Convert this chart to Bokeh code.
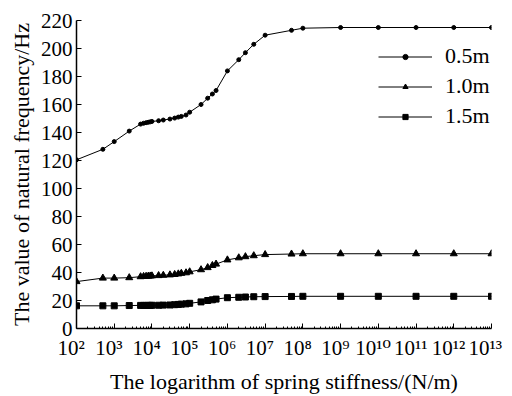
from bokeh.plotting import figure
from bokeh.models import Range1d, FixedTicker, CustomJSTickFormatter, Legend, LegendItem
from bokeh.embed import file_html
from bokeh.resources import INLINE

# Spring stiffness (N/m)
stiffness = [1e2, 5e2, 1e3, 2.5e3, 5e3, 6e3, 7e3, 8e3, 9e3, 1e4, 1.5e4, 2e4, 3e4, 4e4,
             5e4, 6e4, 8e4, 1e5, 2e5, 3e5, 4e5, 5e5, 1e6, 2e6, 3e6, 5e6, 1e7, 5e7, 1e8,
             1e9, 1e10, 1e11, 1e12, 1e13]

freq_05 = [120.5, 128, 133.5, 141, 146, 146.6, 147, 147.3, 147.6, 147.9, 148.4, 148.9,
           149.6, 150.3, 151, 151.5, 152.5, 154.5, 160, 164.5, 167.5, 170, 184, 192,
           197, 203, 209.5, 213, 214.5, 215, 215, 215, 215, 215]
freq_10 = [33.5, 36, 36, 36.3, 37, 37.2, 37.3, 37.4, 37.5, 37.6, 37.8, 38, 38.3, 38.6,
           39, 39.4, 39.8, 40.5, 42, 43.5, 45, 46, 49, 50.5, 51.3, 52, 52.8, 53.2, 53.4,
           53.4, 53.4, 53.4, 53.4, 53.4]
freq_15 = [16.2, 16.2, 16.2, 16.4, 16.5, 16.5, 16.5, 16.5, 16.5, 16.6, 16.6, 16.7, 16.8,
           17, 17.2, 17.4, 17.6, 18, 19, 20, 20.5, 21, 22, 22.3, 22.5, 22.7, 22.8, 22.9,
           23, 23, 23, 23, 23, 23]

series_labels = ["0.5m", "1.0m", "1.5m"]
y_ticks = [0, 20, 40, 60, 80, 100, 120, 140, 160, 180, 200, 220]
x_ticks = [10.0 ** e for e in range(2, 14)]
x_minor = [m * 10.0 ** e for e in range(2, 13) for m in range(2, 10)]

FONT = "Liberation Serif, DejaVu Serif, serif"

p = figure(width=512, height=396, x_axis_type="log", output_backend="svg",
           toolbar_location=None, x_range=Range1d(1e2, 1e13), y_range=Range1d(0, 220))
p.min_border_left = 76
p.min_border_right = 21
p.min_border_top = 20
p.min_border_bottom = 66
p.outline_line_color = None
p.xgrid.visible = False
p.ygrid.visible = False
p.background_fill_color = "white"
p.border_fill_color = "white"

xaxis = p.xaxis[0]
xaxis.ticker = FixedTicker(ticks=x_ticks, minor_ticks=x_minor)
xaxis.formatter = CustomJSTickFormatter(code="""
const sup = ['\u2070','\u00b9','\u00b2','\u00b3','\u2074','\u2075','\u2076','\u2077','\u2078','\u2079'];
const e = Math.round(Math.log10(tick));
return '10' + String(e).split('').map(d => sup[+d]).join('') + '\u00a0\u00a0';
""")

for ax in (xaxis, p.yaxis[0]):
    ax.axis_line_color = "black"
    ax.axis_line_width = 1.5
    ax.major_tick_in = 5
    ax.major_tick_out = 0
    ax.minor_tick_in = 2
    ax.minor_tick_out = 0
    ax.major_tick_line_color = "black"
    ax.minor_tick_line_color = "black"
    ax.major_label_text_font = FONT
    ax.major_label_text_font_size = "21px"
    ax.major_label_text_color = "black"
    ax.axis_label_text_font = FONT
    ax.axis_label_text_font_size = "22px"
    ax.axis_label_text_font_style = "normal"
    ax.axis_label_text_color = "black"

p.yaxis[0].ticker = FixedTicker(ticks=y_ticks, minor_ticks=[])
p.yaxis[0].minor_tick_line_color = None
p.yaxis[0].major_label_standoff = 4
p.yaxis[0].axis_label_standoff = 4
p.yaxis[0].axis_label = "The value of natural frequency/Hz"
xaxis.axis_label = "The logarithm of spring stiffness/(N/m)"
xaxis.major_label_standoff = 7
xaxis.axis_label_standoff = 6

items = []
specs = [(freq_05, "circle", 4), (freq_10, "triangle", 7), (freq_15, "square", 6)]
for (vals, marker, size), label in zip(specs, series_labels):
    r1 = p.line(stiffness, vals, line_color="black", line_width=1)
    r2 = p.scatter(stiffness, vals, marker=marker, size=size, fill_color="black",
                   line_color="black")
    items.append(LegendItem(label=label, renderers=[r1, r2]))

legend = Legend(items=items, location=(302, 197))
legend.border_line_color = None
legend.background_fill_alpha = 0
legend.padding = 0
legend.margin = 0
legend.spacing = 0
legend.glyph_width = 54
legend.glyph_height = 13
legend.label_height = 30
legend.label_standoff = 13
legend.label_text_font = FONT
legend.label_text_font_size = "22px"
legend.label_text_color = "black"
p.add_layout(legend)

open("out.html", "w").write(file_html(p, INLINE))
